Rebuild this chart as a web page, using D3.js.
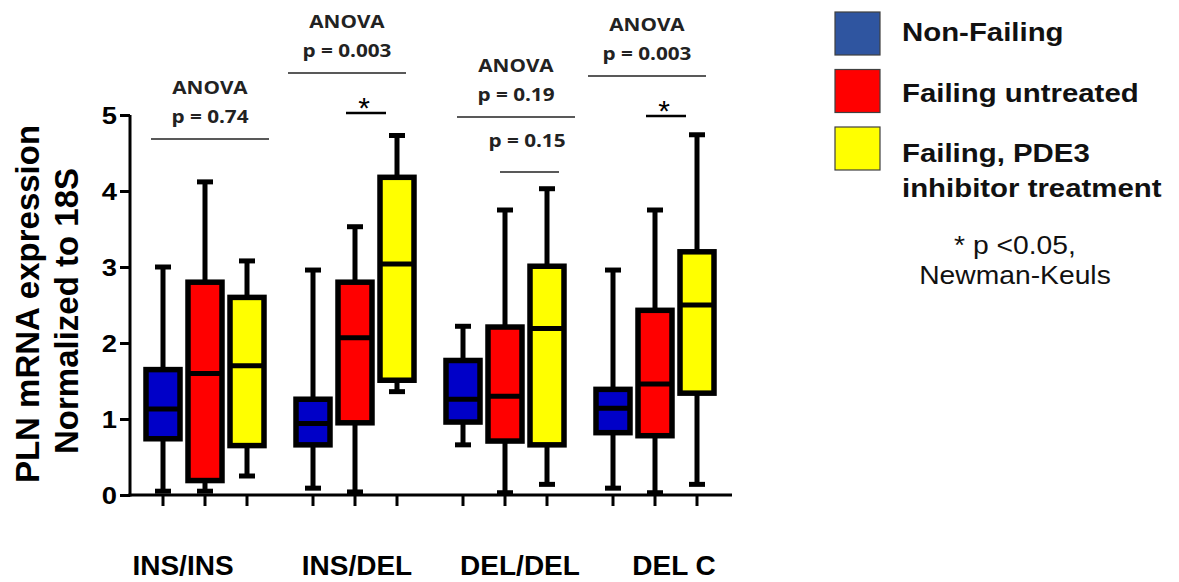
<!DOCTYPE html>
<html><head><meta charset="utf-8">
<script src="https://cdn.jsdelivr.net/npm/d3@7"></script>
<style>body{margin:0;background:#fff}</style>
</head><body>
<svg id="c" width="1179" height="582"></svg>
<script>
// ---- data ----
const categories = ["INS/INS", "INS/DEL", "DEL/DEL", "DEL C"];
const seriesNames = ["Non-Failing", "Failing untreated", "Failing, PDE3 inhibitor treatment"];
// each entry: [min, q1, median, q3, max] per category
const nonFailing       = [[0.05, 0.74, 1.13, 1.65, 3.00], [0.09, 0.66, 0.94, 1.26, 2.96], [0.66, 0.96, 1.26, 1.77, 2.22], [0.09, 0.82, 1.14, 1.39, 2.96]];
const failingUntreated = [[0.05, 0.19, 1.60, 2.80, 4.12], [0.04, 0.95, 2.07, 2.80, 3.53], [0.03, 0.71, 1.30, 2.21, 3.75], [0.03, 0.78, 1.46, 2.43, 3.75]];
const failingPDE3      = [[0.25, 0.65, 1.70, 2.60, 3.08], [1.36, 1.51, 3.04, 4.18, 4.73], [0.14, 0.66, 2.19, 3.01, 4.03], [0.14, 1.34, 2.50, 3.20, 4.74]];
const yTicks = [0, 1, 2, 3, 4, 5];
const anovaP = ["p = 0.74", "p = 0.003", "p = 0.19", "p = 0.003"];
const starGroups = ["INS/DEL", "DEL C"];
const subPGroup = "DEL/DEL";
const subPText = "p = 0.15";
const legendLines = [["Non-Failing"], ["Failing untreated"], ["Failing, PDE3", "inhibitor treatment"]];
const noteLines = ["* p <0.05,", "Newman-Keuls"];
const yTitleLines = ["PLN mRNA expression", "Normalized to 18S"];

// ---- drawing ----
const svg = d3.select("#c");
const x = d3.scaleBand().domain(categories).range([130, 730]);
const xi = d3.scaleBand().domain(seriesNames).range([12, 138]);
const y = d3.scaleLinear().domain([0, 5]).range([495, 115]);
const fill = d3.scaleOrdinal().domain(seriesNames).range(["#0000c8", "#ff0000", "#ffff00"]);
const legendFill = d3.scaleOrdinal().domain(seriesNames).range(["#2f55a0", "#ff0000", "#ffff00"]);
const SX = 1.14;
function stretch(sel, f) {
  sel.each(function () {
    const w = this.getComputedTextLength();
    d3.select(this).attr("textLength", w * f).attr("lengthAdjust", "spacingAndGlyphs");
  });
}
const allSeries = [nonFailing, failingUntreated, failingPDE3];
const cx = (c, s) => x(c) + xi(s) + xi.bandwidth() / 2;
const boxes = [];
categories.forEach((c, ci) => seriesNames.forEach((s, si) => {
  const v = allSeries[si][ci];
  boxes.push({ c, s, min: v[0], q1: v[1], med: v[2], q3: v[3], max: v[4], cx: cx(c, s) });
}));

// y axis
const yAxis = d3.axisLeft(y).tickValues(yTicks).tickSize(10).tickSizeOuter(0).tickPadding(3).tickFormat(d3.format("d"));
const ga = svg.append("g").attr("transform", "translate(130,0)").call(yAxis);
ga.select(".domain").attr("stroke", "#000").attr("stroke-width", 3).attr("d", "M0,496.5V115");
ga.selectAll(".tick line").attr("stroke", "#000").attr("stroke-width", 3);
ga.selectAll(".tick text").attr("font-family", "Liberation Sans, Arial, sans-serif").attr("font-weight", "bold").attr("font-size", 24).attr("fill", "#000").attr("dy", "0.36em");
stretch(ga.selectAll(".tick text"), SX);

// x axis
svg.append("line").attr("x1", 128.5).attr("x2", 732).attr("y1", y(0)).attr("y2", y(0)).attr("stroke", "#000").attr("stroke-width", 3);
svg.append("g").selectAll("line").data(boxes).join("line")
  .attr("x1", d => d.cx).attr("x2", d => d.cx).attr("y1", y(0)).attr("y2", y(0) + 11)
  .attr("stroke", "#000").attr("stroke-width", 3);

// whiskers
const capW = 16;
const gb = svg.append("g");
gb.selectAll("line.wh").data(boxes).join("line").attr("class", "wh")
  .attr("x1", d => d.cx).attr("x2", d => d.cx).attr("y1", d => y(d.min)).attr("y2", d => y(d.max))
  .attr("stroke", "#000").attr("stroke-width", 5);
gb.selectAll("line.capmin").data(boxes).join("line").attr("class", "capmin")
  .attr("x1", d => d.cx - capW / 2).attr("x2", d => d.cx + capW / 2).attr("y1", d => y(d.min)).attr("y2", d => y(d.min))
  .attr("stroke", "#000").attr("stroke-width", 5);
gb.selectAll("line.capmax").data(boxes).join("line").attr("class", "capmax")
  .attr("x1", d => d.cx - capW / 2).attr("x2", d => d.cx + capW / 2).attr("y1", d => y(d.max)).attr("y2", d => y(d.max))
  .attr("stroke", "#000").attr("stroke-width", 5);
// boxes
const bw = 34;
gb.selectAll("rect").data(boxes).join("rect")
  .attr("x", d => d.cx - bw / 2).attr("width", bw)
  .attr("y", d => y(d.q3)).attr("height", d => y(d.q1) - y(d.q3))
  .attr("fill", d => fill(d.s)).attr("stroke", "#000").attr("stroke-width", 5.5);
gb.selectAll("line.med").data(boxes).join("line").attr("class", "med")
  .attr("x1", d => d.cx - bw / 2).attr("x2", d => d.cx + bw / 2).attr("y1", d => y(d.med)).attr("y2", d => y(d.med))
  .attr("stroke", "#000").attr("stroke-width", 5);

// category labels
const labelShift = [-22, 2, 15, 19];
svg.append("g").selectAll("text").data(categories).join("text")
  .attr("x", (d, i) => x(d) + x.bandwidth() / 2 + labelShift[i]).attr("y", 575)
  .attr("text-anchor", "middle").attr("font-family", "Liberation Sans, Arial, sans-serif")
  .attr("font-weight", "bold").attr("font-size", 28).attr("fill", "#000").text(d => d);

// y title
svg.append("g").selectAll("text").data(yTitleLines).join("text")
  .attr("transform", (d, i) => `translate(${[39, 78][i]},${[304, 311][i]}) rotate(-90)`)
  .attr("text-anchor", "middle").attr("font-family", "Liberation Sans, Arial, sans-serif")
  .attr("font-weight", "bold").attr("font-size", 33).attr("fill", "#000").text(d => d);

// ANOVA annotations
const annLineY = [139, 73, 117, 76];
const annShift = [5, -8, 11, -8];
const annFont = "'Open Sans', sans-serif";
const ann = svg.append("g");
categories.forEach((c, i) => {
  const mx = x(c) + x.bandwidth() / 2 + annShift[i];
  const ly = annLineY[i];
  ann.append("line").attr("x1", mx - 59).attr("x2", mx + 59).attr("y1", ly).attr("y2", ly).attr("stroke", "#222").attr("stroke-width", 1.5);
  const t1 = ann.append("text").attr("x", mx).attr("y", ly - 52 + 6.5).attr("text-anchor", "middle")
    .attr("font-family", annFont).attr("font-weight", "bold").attr("font-size", 18).attr("fill", "#222").text("ANOVA");
  const t2 = ann.append("text").attr("x", mx).attr("y", ly - 23 + 6.5).attr("text-anchor", "middle")
    .attr("font-family", annFont).attr("font-weight", "bold").attr("font-size", 18).attr("fill", "#222").text(anovaP[i]);
  stretch(t1, 1.15); stretch(t2, 1.15);
});
// pairwise stars
starGroups.forEach(c => {
  const i = categories.indexOf(c);
  const rx = cx(c, seriesNames[1]);
  const by = annLineY[i] + 40;
  ann.append("line").attr("x1", rx - 9).attr("x2", rx + 31).attr("y1", by).attr("y2", by).attr("stroke", "#000").attr("stroke-width", 2.5);
  ann.append("text").attr("x", rx + 9).attr("y", by + 5).attr("text-anchor", "middle")
    .attr("font-family", "Liberation Sans, Arial, sans-serif").attr("font-size", 30).attr("fill", "#000").text("*");
});
// sub p value
{
  const rx = cx(subPGroup, seriesNames[1]), yx = cx(subPGroup, seriesNames[2]);
  ann.append("line").attr("x1", rx - 5).attr("x2", yx + 12).attr("y1", 172).attr("y2", 172).attr("stroke", "#222").attr("stroke-width", 1.5);
  const t = ann.append("text").attr("x", (rx + yx) / 2 + 1).attr("y", 146.5).attr("text-anchor", "middle")
    .attr("font-family", annFont).attr("font-weight", "bold").attr("font-size", 18).attr("fill", "#222").text(subPText);
  stretch(t, 1.15);
}

// legend
const lg = svg.append("g");
seriesNames.forEach((s, i) => {
  const top = 12 + i * 57.5;
  lg.append("rect").attr("x", 835).attr("y", top).attr("width", 45).attr("height", 43)
    .attr("fill", legendFill(s)).attr("stroke", "#404040").attr("stroke-width", 1.2);
  legendLines[i].forEach((ln, j) => {
    const t = lg.append("text").attr("x", 902).attr("y", top + 29 + 3 * i + j * 35)
      .attr("font-family", "Liberation Sans, Arial, sans-serif").attr("font-weight", "bold")
      .attr("font-size", 26).attr("fill", "#111").text(ln);
    stretch(t, 1.13);
  });
});
noteLines.forEach((ln, j) => {
  const t = lg.append("text").attr("x", 1015).attr("y", 254 + j * 30).attr("text-anchor", "middle")
    .attr("font-family", "Liberation Sans, Arial, sans-serif").attr("font-size", 25).attr("fill", "#111").text(ln);
  stretch(t, 1.13);
});
</script>
</body></html>
